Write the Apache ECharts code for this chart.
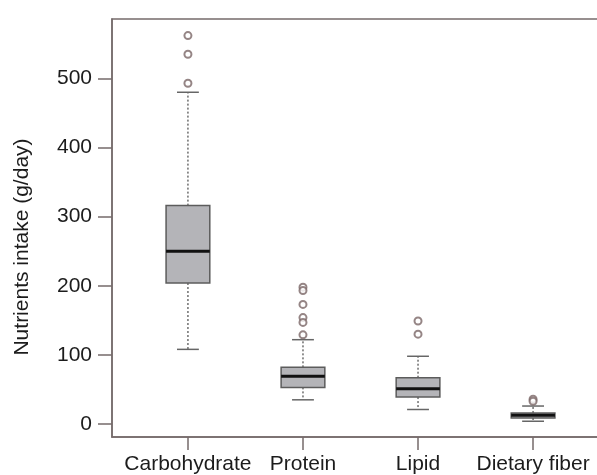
<!DOCTYPE html>
<html>
<head>
<meta charset="utf-8">
<script src="https://cdn.jsdelivr.net/npm/echarts@6/dist/echarts.min.js"></script>
<style>
  html, body { margin: 0; padding: 0; background: #fff; }
  #chart { width: 597px; height: 475px; }
</style>
</head>
<body>
<div id="chart"></div>
<script>
// box statistics (g/day)
const categories = ['Carbohydrate', 'Protein', 'Lipid', 'Dietary fiber'];
const lowerWhisker = [108, 35, 21, 4];
const q1 = [204, 53, 39, 8.7];
const median = [250, 69, 51, 12.5];
const q3 = [316, 82, 67, 16];
const upperWhisker = [480, 122, 98, 26];
const outliers = [
    [562, 535, 493],
    [198, 193, 173, 154, 147, 129],
    [149, 130],
    [36, 33]
];
const yTicks = [0, 100, 200, 300, 400, 500];

const frameColor = '#756b6b';
const textColor = '#1c1c1c';
const font = 'Liberation Sans, Arial, sans-serif';
const BOX_W = 0.38; // box width in x-axis units

const chart = echarts.init(document.getElementById('chart'));

const boxData = categories.map((c, i) => [i + 1, lowerWhisker[i], q1[i], median[i], q3[i], upperWhisker[i]]);
const outlierData = [];
outliers.forEach((list, i) => {
    list.forEach(v => outlierData.push([i + 1, v]));
});

const renderBox = (params, api) => {
    const x = api.value(0);
    const lo = api.value(1), b1 = api.value(2), md = api.value(3), b3 = api.value(4), hi = api.value(5);
    const tl = api.coord([x - BOX_W / 2, b3]);
    const br = api.coord([x + BOX_W / 2, b1]);
    const capL = api.coord([x - BOX_W / 4, hi])[0];
    const capR = api.coord([x + BOX_W / 4, hi])[0];
    const cx = api.coord([x, md])[0];
    const yLo = api.coord([x, lo])[1];
    const yHi = api.coord([x, hi])[1];
    const yMd = api.coord([x, md])[1];
    const whisker = { stroke: '#6e6e6e', lineWidth: 1.5, lineDash: [2, 2] };
    const cap = { stroke: '#666', lineWidth: 1.5 };
    return {
        type: 'group',
        children: [
            { type: 'line', shape: { x1: cx, y1: tl[1], x2: cx, y2: yHi }, style: whisker },
            { type: 'line', shape: { x1: cx, y1: br[1], x2: cx, y2: yLo }, style: whisker },
            { type: 'line', shape: { x1: capL, y1: yHi, x2: capR, y2: yHi }, style: cap },
            { type: 'line', shape: { x1: capL, y1: yLo, x2: capR, y2: yLo }, style: cap },
            {
                type: 'rect',
                shape: { x: tl[0], y: tl[1], width: br[0] - tl[0], height: br[1] - tl[1] },
                style: { fill: '#b4b4b8', stroke: '#5c5c5c', lineWidth: 1.5 }
            },
            { type: 'line', shape: { x1: tl[0], y1: yMd, x2: br[0], y2: yMd }, style: { stroke: '#111', lineWidth: 3 } }
        ]
    };
};

const option = {
    animation: false,
    backgroundColor: '#fff',
    grid: {
        left: 112, top: 19, width: 497, bottom: 38,
        outerBoundsMode: 'none',
        containLabel: false,
        show: true, borderColor: frameColor, borderWidth: 1.5
    },
    xAxis: {
        type: 'value',
        min: 0.34,
        max: 4.66,
        splitLine: { show: false },
        axisLine: { show: true, onZero: false, lineStyle: { color: frameColor, width: 1.5 } },
        axisTick: { show: true, length: 13, customValues: [1, 2, 3, 4], lineStyle: { color: frameColor, width: 1.5 } },
        axisLabel: {
            customValues: [1, 2, 3, 4],
            formatter: v => categories[Math.round(v) - 1],
            color: textColor, fontFamily: font, fontSize: 21, margin: 17
        }
    },
    yAxis: {
        type: 'value',
        min: -18.8,
        max: 586,
        name: 'Nutrients intake (g/day)',
        nameLocation: 'middle',
        nameGap: 79,
        nameTextStyle: { color: textColor, fontFamily: font, fontSize: 21, padding: [0, 38, 0, 0] },
        splitLine: { show: false },
        axisLine: { show: true, onZero: false, lineStyle: { color: frameColor, width: 1.5 } },
        axisTick: { show: true, length: 14, customValues: yTicks, lineStyle: { color: frameColor, width: 1.5 } },
        axisLabel: { customValues: yTicks, color: textColor, fontFamily: font, fontSize: 21, margin: 20 }
    },
    series: [
        {
            type: 'custom',
            renderItem: renderBox,
            data: boxData,
            z: 2
        },
        {
            type: 'scatter',
            data: outlierData,
            symbol: 'emptyCircle',
            symbolSize: 7,
            itemStyle: { color: '#7a6666', borderWidth: 1.5 },
            z: 3
        }
    ]
};

chart.setOption(option);
</script>
</body>
</html>
